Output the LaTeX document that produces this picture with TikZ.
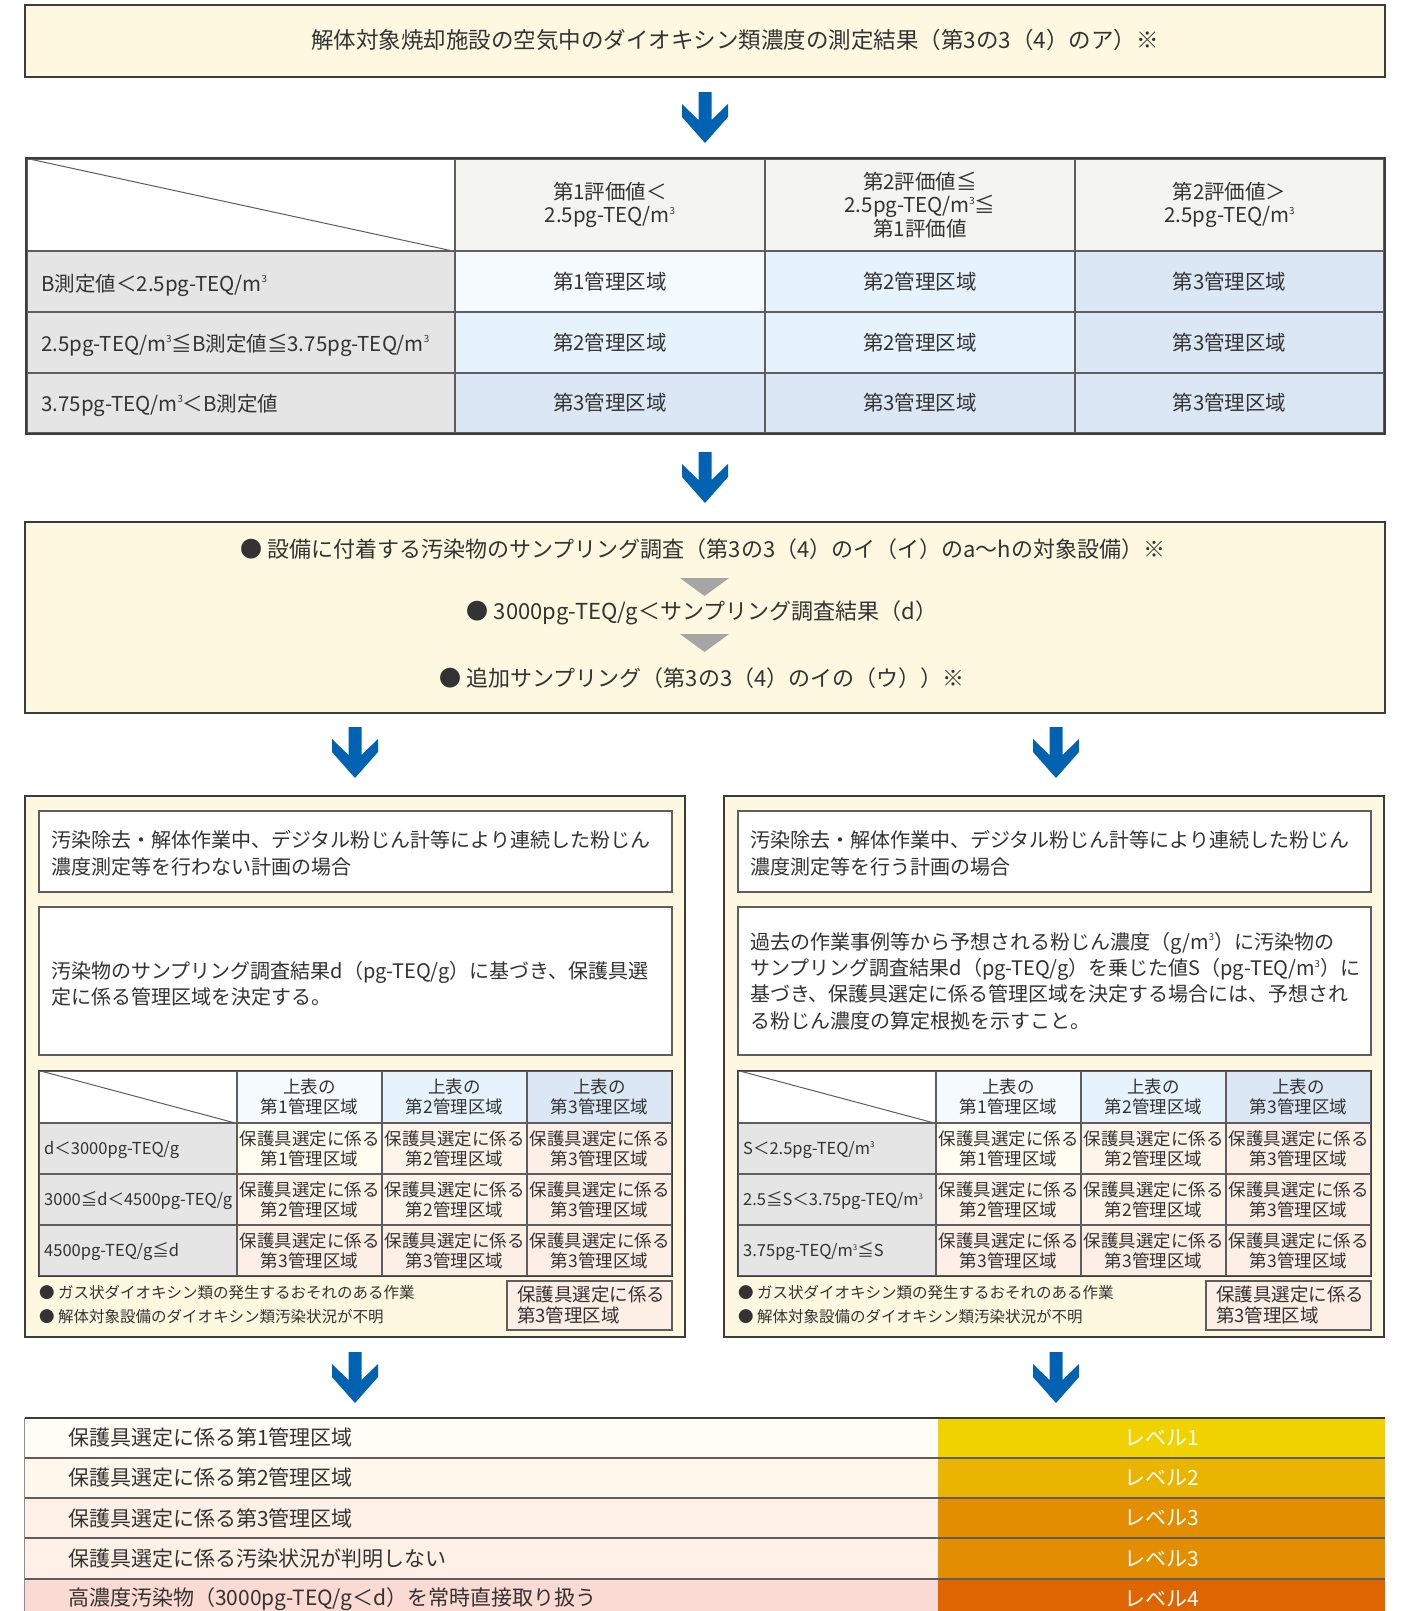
\documentclass[tikz,border=0pt]{standalone}
\usepackage{fontspec}
\setmainfont{Noto Sans CJK JP}
\usetikzlibrary{calc}
\definecolor{cream}{HTML}{FFF8E0}
\definecolor{bord}{HTML}{3C3C3C}
\definecolor{gridc}{HTML}{5E5E5E}
\definecolor{hdr}{HTML}{F4F5F3}
\definecolor{rowh}{HTML}{E5E5E5}
\definecolor{za}{HTML}{F4FAFD}
\definecolor{zb}{HTML}{E7F3FC}
\definecolor{zc}{HTML}{DCE7F5}
\definecolor{p1}{HTML}{FFFCF2}
\definecolor{p2}{HTML}{FEF4EA}
\definecolor{p3}{HTML}{FDEEE6}
\definecolor{abl}{HTML}{0062B1}
\definecolor{tri}{HTML}{A5A5A5}
\definecolor{txt}{HTML}{333333}
\definecolor{la}{HTML}{FFFDF6}
\definecolor{lb}{HTML}{FEF7EC}
\definecolor{lc}{HTML}{FDF0E6}
\definecolor{ld}{HTML}{FADAD2}
\definecolor{ya}{HTML}{F0D200}
\definecolor{yb}{HTML}{E9B500}
\definecolor{yc}{HTML}{E38E00}
\definecolor{yd}{HTML}{DE6500}
\newcommand\fs[2]{\fontsize{#1}{#2}\selectfont}
\newcommand\cu{\raisebox{0.42em}{\scalebox{0.48}{3}}}
\tikzset{
  cell/.style={draw=gridc, line width=1.3, inner sep=0pt, align=center},
  outerbox/.style={draw=bord, line width=1.8, inner sep=0pt},
  wbox/.style={draw=gridc, line width=1.4, fill=white, inner sep=0pt},
  plain/.style={draw=none, inner sep=0pt},
  barrow/.pic={\fill[abl] (-6.5,0) -- (6.5,0) -- (6.5,28) -- (23,12) -- (23,25) -- (0,51) -- (-23,25) -- (-23,12) -- (-6.5,28) -- cycle;},
  gtri/.pic={\fill[tri] (-24.5,0) -- (24.5,0) -- (0,18) -- cycle;},
}
% panel macro: #1 prefix, #2 box1 text, #3 box2 text, #4 #5 #6 row labels, #7 box2 text y
\newcommand\panel[7]{%
  \node[outerbox, fill=cream, minimum width=660, minimum height=541] (#1p) at (355,1066.5) {};
  \node[wbox, minimum width=633, minimum height=81] (#1b1) at (355.5,851.5) {};
  \node[font=\fs{20}{27}, align=left, anchor=west] (#1b1t) at (51,853) {#2};
  \node[wbox, minimum width=633, minimum height=148] (#1b2) at (355.5,981) {};
  \node[font=\fs{20}{26.3}, align=left, anchor=west] (#1b2t) at (51,#7) {#3};
  \node[cell, fill=white, minimum width=198, minimum height=52] (#1d) at (138,1097) {};
  \draw[line width=1, draw=gridc] (#1d.north west) -- (#1d.south east);
  \node[cell, fill=za, minimum width=145, minimum height=52, font=\fs{17.5}{20}] (#1h1) at (309.5,1097) {上表の\\第1管理区域};
  \node[cell, fill=zb, minimum width=145, minimum height=52, font=\fs{17.5}{20}] (#1h2) at (454.5,1097) {上表の\\第2管理区域};
  \node[cell, fill=zc, minimum width=145, minimum height=52, font=\fs{17.5}{20}] (#1h3) at (599.5,1097) {上表の\\第3管理区域};
  \node[cell, fill=rowh, minimum width=198, minimum height=51] (#1r1) at (138,1148.5) {};
  \node[cell, fill=rowh, minimum width=198, minimum height=51] (#1r2) at (138,1199.5) {};
  \node[cell, fill=rowh, minimum width=198, minimum height=51] (#1r3) at (138,1250.5) {};
  \node[font=\fs{16.5}{20}, anchor=west] (#1r1t) at (44,1150) {#4};
  \node[font=\fs{16.5}{20}, anchor=west] (#1r2t) at (44,1201) {#5};
  \node[font=\fs{16.5}{20}, anchor=west] (#1r3t) at (44,1252) {#6};
  \foreach \rr/\yy/\va/\vb/\vc in {1/1148.5/1/2/3,2/1199.5/2/2/3,3/1250.5/3/3/3} {
    \node[cell, fill=p\va, minimum width=145, minimum height=51, font=\fs{17.5}{20}] (#1c\rr a) at (309.5,\yy) {保護具選定に係る\\第\va 管理区域};
    \node[cell, fill=p\vb, minimum width=145, minimum height=51, font=\fs{17.5}{20}] (#1c\rr b) at (454.5,\yy) {保護具選定に係る\\第\vb 管理区域};
    \node[cell, fill=p\vc, minimum width=145, minimum height=51, font=\fs{17.5}{20}] (#1c\rr c) at (599.5,\yy) {保護具選定に係る\\第\vc 管理区域};
  }
  \draw[draw=bord, line width=1.6] (#1d.north west) rectangle (#1c3c.south east);
  \node[font=\fs{15.5}{18}, anchor=west] (#1f1) at (39,1293) {● ガス状ダイオキシン類の発生するおそれのある作業};
  \node[font=\fs{15.5}{18}, anchor=west] (#1f2) at (39,1317) {● 解体対象設備のダイオキシン類汚染状況が不明};
  \node[cell, fill=p3, minimum width=165, minimum height=49] (#1fb) at (589.5,1305.5) {};
  \node[font=\fs{18.5}{21}, align=left, anchor=west] (#1fbt) at (517,1305) {保護具選定に係る\\第3管理区域};
}
\begin{document}
\begin{tikzpicture}[x=1pt,y=-1pt, every node/.append style={text=txt, inner sep=0pt}]
\useasboundingbox (0,0) rectangle (1402,1611);
\clip (0,0) rectangle (1402,1611);

% title
\node[outerbox, fill=cream, minimum width=1360, minimum height=72] (title) at (705,41) {};
\node[font=\fs{22.5}{26}] (titlet) at (735,40) {解体対象焼却施設の空気中のダイオキシン類濃度の測定結果（第3の3（4）のア）※};
\pic at (705,92) {barrow};

% table 1
\node[cell, fill=white, minimum width=428, minimum height=92] (td) at (241,205) {};
\draw[line width=1, draw=gridc] (td.north west) -- (td.south east);
\node[cell, fill=hdr, minimum width=310, minimum height=92, font=\fs{20.5}{23.5}] (th1) at (610,205) {第1評価値＜\\2.5pg-TEQ/m\cu};
\node[cell, fill=hdr, minimum width=310, minimum height=92, font=\fs{20.5}{23.5}] (th2) at (920,205) {第2評価値≦\\2.5pg-TEQ/m\cu≦\\第1評価値};
\node[cell, fill=hdr, minimum width=309, minimum height=92, font=\fs{20.5}{23.5}] (th3) at (1229.5,205) {第2評価値＞\\2.5pg-TEQ/m\cu};
\node[cell, fill=rowh, minimum width=428, minimum height=61] (tr1) at (241,281.5) {};
\node[cell, fill=rowh, minimum width=428, minimum height=61] (tr2) at (241,342.5) {};
\node[cell, fill=rowh, minimum width=428, minimum height=60] (tr3) at (241,403) {};
\node[font=\fs{20.5}{24}, anchor=west] (tr1t) at (41,285) {B測定値＜2.5pg-TEQ/m\cu};
\node[font=\fs{20.5}{24}, anchor=west] (tr2t) at (41,345) {2.5pg-TEQ/m\cu≦B測定値≦3.75pg-TEQ/m\cu};
\node[font=\fs{20.5}{24}, anchor=west] (tr3t) at (41,405) {3.75pg-TEQ/m\cu＜B測定値};
\foreach \rr/\yy/\hh/\ca/\cb/\cc/\va/\vb/\vc in {1/281.5/61/za/zb/zc/1/2/3,2/342.5/61/zb/zb/zc/2/2/3,3/403/60/zc/zc/zc/3/3/3} {
  \node[cell, fill=\ca, minimum width=310, minimum height=\hh, font=\fs{20.5}{24}] (tc\rr a) at (610,\yy) {第\va 管理区域};
  \node[cell, fill=\cb, minimum width=310, minimum height=\hh, font=\fs{20.5}{24}] (tc\rr b) at (920,\yy) {第\vb 管理区域};
  \node[cell, fill=\cc, minimum width=309, minimum height=\hh, font=\fs{20.5}{24}] (tc\rr c) at (1229.5,\yy) {第\vc 管理区域};
}
\draw[draw=bord, line width=1.8] (td.north west) rectangle (tc3c.south east);
\pic at (705,452) {barrow};

% sampling box
\node[outerbox, fill=cream, minimum width=1360, minimum height=191] (samp) at (705,617.5) {};
\node[font=\fs{22}{26}] (s1) at (703,549) {● 設備に付着する汚染物のサンプリング調査（第3の3（4）のイ（イ）のa〜hの対象設備）※};
\pic at (704.5,578) {gtri};
\node[font=\fs{22}{26}] (s2) at (702,613) {● 3000pg-TEQ/g＜サンプリング調査結果（d）};
\pic at (704.5,634) {gtri};
\node[font=\fs{22}{26}] (s3) at (702,678) {● 追加サンプリング（第3の3（4）のイの（ウ））※};
\pic at (355,727) {barrow};
\pic at (1056,727) {barrow};

% panels
\panel{L}{汚染除去・解体作業中、デジタル粉じん計等により連続した粉じん\\濃度測定等を行わない計画の場合}%
  {汚染物のサンプリング調査結果d（pg-TEQ/g）に基づき、保護具選\\定に係る管理区域を決定する。}%
  {d＜3000pg-TEQ/g}{3000≦d＜4500pg-TEQ/g}{4500pg-TEQ/g≦d}{984}
\begin{scope}[shift={(699,0)}]
\panel{R}{汚染除去・解体作業中、デジタル粉じん計等により連続した粉じん\\濃度測定等を行う計画の場合}%
  {過去の作業事例等から予想される粉じん濃度（g/m\cu）に汚染物の\\サンプリング調査結果d（pg-TEQ/g）を乗じた値S（pg-TEQ/m\cu）に\\基づき、保護具選定に係る管理区域を決定する場合には、予想され\\る粉じん濃度の算定根拠を示すこと。}%
  {S＜2.5pg-TEQ/m\cu}{2.5≦S＜3.75pg-TEQ/m\cu}{3.75pg-TEQ/m\cu≦S}{981}
\end{scope}
\pic at (355,1352) {barrow};
\pic at (1056,1352) {barrow};

% bottom table
\node[plain, fill=la, minimum width=913, minimum height=40] (b1l) at (481.5,1438) {};
\node[plain, fill=lb, minimum width=913, minimum height=40] (b2l) at (481.5,1478) {};
\node[plain, fill=lc, minimum width=913, minimum height=40] (b3l) at (481.5,1518) {};
\node[plain, fill=lc, minimum width=913, minimum height=41] (b4l) at (481.5,1558.5) {};
\node[plain, fill=ld, minimum width=913, minimum height=40] (b5l) at (481.5,1599) {};
\node[plain, fill=ya, minimum width=447, minimum height=40, text=white, font=\fs{21}{24}] (b1r) at (1161.5,1438) {レベル1};
\node[plain, fill=yb, minimum width=447, minimum height=40, text=white, font=\fs{21}{24}] (b2r) at (1161.5,1478) {レベル2};
\node[plain, fill=yc, minimum width=447, minimum height=40, text=white, font=\fs{21}{24}] (b3r) at (1161.5,1518) {レベル3};
\node[plain, fill=yc, minimum width=447, minimum height=41, text=white, font=\fs{21}{24}] (b4r) at (1161.5,1558.5) {レベル3};
\node[plain, fill=yd, minimum width=447, minimum height=40, text=white, font=\fs{21}{24}] (b5r) at (1161.5,1599) {レベル4};
\node[font=\fs{21}{24}, anchor=west] (b1t) at (68,1438) {保護具選定に係る第1管理区域};
\node[font=\fs{21}{24}, anchor=west] (b2t) at (68,1478) {保護具選定に係る第2管理区域};
\node[font=\fs{21}{24}, anchor=west] (b3t) at (68,1518) {保護具選定に係る第3管理区域};
\node[font=\fs{21}{24}, anchor=west] (b4t) at (68,1558.5) {保護具選定に係る汚染状況が判明しない};
\node[font=\fs{21}{24}, anchor=west] (b5t) at (68,1599) {高濃度汚染物（3000pg-TEQ/g＜d）を常時直接取り扱う};
\draw[draw=bord, line width=2.2] (b1l.north west) -- (b1r.north east);
\foreach \n in {2,3,4,5} {
  \draw[draw=gridc, line width=2] (b\n l.north west) -- (b\n r.north east);
}
\draw[draw=gridc!70, line width=1.2] (b1l.north west) -- (b5l.south west);
\end{tikzpicture}
\end{document}
